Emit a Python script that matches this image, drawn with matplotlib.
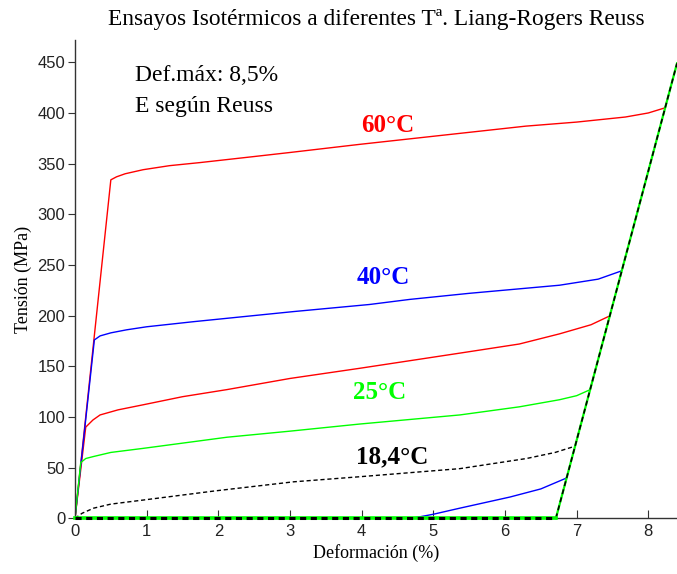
import numpy as np
import matplotlib
matplotlib.use("Agg")
import matplotlib.pyplot as plt

# curvas (deformacion %, tension MPa)
eps_60 = [0, 0.50, 0.58, 0.70, 0.95, 1.32, 1.74, 2.5, 3.0, 3.97, 5.0, 6.29, 7.0, 7.68, 8.0, 8.23]
sig_60 = [0, 334, 337, 340, 344, 348, 351, 357, 361, 369, 377, 387, 391, 396, 400, 405]

eps_40 = [0, 0.27, 0.35, 0.5, 0.72, 1.0, 1.65, 3.05, 4.11, 4.67, 5.5, 6.76, 7.3, 7.62]
sig_40 = [0, 176, 180, 183, 186, 189, 194, 204, 211, 216, 222, 230, 236, 244]

eps_40_ret = [4.70, 5.0, 5.37, 6.07, 6.5, 6.85]
sig_40_ret = [0, 4, 10, 21, 29, 39.5]

eps_r2 = [0, 0.15, 0.25, 0.35, 0.6, 0.95, 1.5, 2.12, 3.0, 3.97, 5.37, 6.2, 6.76, 7.2, 7.44]
sig_r2 = [0, 90, 97, 102, 107, 112, 120, 127, 138, 148, 163, 172, 182, 191, 199]

eps_25 = [0, 0.08, 0.15, 0.26, 0.5, 0.95, 2.12, 3.0, 3.97, 5.37, 6.2, 6.76, 7.0, 7.19]
sig_25 = [0, 55, 59, 61, 65, 69, 80, 86, 93, 102, 110, 117, 121, 127]

eps_18 = [0, 0.1, 0.26, 0.5, 0.95, 1.95, 3.05, 3.97, 5.37, 6.3, 6.7, 6.97]
sig_18 = [0, 5, 10, 14, 18, 27, 36, 41, 49, 59, 65, 71]

eps_base = [0, 6.71]
sig_base = [0, 0]
eps_desc = [6.71, 8.40]
sig_desc = [0, 449]

fig = plt.figure(figsize=(6.77, 5.74), dpi=100)
ax = fig.add_axes([75/677, 1 - 518.3/574, 1 - 75/677, (518.3 - 40)/574])

lw = 1.0
green = "#00ff00"
ax.plot(eps_60, sig_60, c="#ff0000", lw=lw)
ax.plot(eps_r2, sig_r2, c="#ff0000", lw=lw)
ax.plot(eps_40, sig_40, c="#0000ff", lw=lw)
ax.plot(eps_40_ret, sig_40_ret, c="#0000ff", lw=lw)
ax.plot(eps_25, sig_25, c=green, lw=lw)
ax.plot(eps_18, sig_18, c="k", lw=lw, ls=(0, (3, 2)))
# descarga comun
ax.plot(eps_desc, sig_desc, c=green, lw=1.6, clip_on=False)
ax.plot(eps_desc, sig_desc, c="k", lw=1.2, ls=(0, (3, 2)), clip_on=False)
ax.plot(eps_base, sig_base, c=green, lw=2.6, clip_on=False, zorder=5)
ax.plot(eps_base, sig_base, c="k", lw=2.2, ls=(0, (2, 1.5)), clip_on=False, zorder=6)

ax.set_xlim(0, 8.4)
ax.set_ylim(0, 472)
ax.set_xticks(range(0, 9))
ax.set_yticks(range(0, 451, 50))
for s in ["top", "right"]:
    ax.spines[s].set_visible(False)
for s in ["left", "bottom"]:
    ax.spines[s].set_color("#333333")
    ax.spines[s].set_linewidth(1.0)
ax.tick_params(axis="x", direction="in", length=6, color="#333333", pad=4)
ax.tick_params(axis="y", direction="out", length=5, color="#333333", pad=2)
for t in ax.get_xticklabels() + ax.get_yticklabels():
    t.set_fontfamily("Liberation Sans")
    t.set_fontsize(12)
    t.set_color("#222222")

serif = "Liberation Serif"
ax.set_xlabel("Deformación (%)", family=serif, fontsize=13, labelpad=4)
ax.set_ylabel("Tensión (MPa)", family=serif, fontsize=13, labelpad=4)
fig.text(376/677, 1 - 20/574, "Ensayos Isotérmicos a diferentes Tª. Liang-Rogers Reuss",
         family=serif, fontsize=16.8, ha="center", va="center")

ax.text(0.84, 437, "Def.máx: 8,5%", family=serif, fontsize=17, va="center")
ax.text(0.84, 406, "E según Reuss", family=serif, fontsize=17, va="center")
ax.text(4.37, 388, "60°C", family=serif, fontsize=18, weight="bold", color="#ff0000", ha="center", va="center")
ax.text(4.30, 238, "40°C", family=serif, fontsize=18, weight="bold", color="#0000ff", ha="center", va="center")
ax.text(4.25, 124, "25°C", family=serif, fontsize=18, weight="bold", color=green, ha="center", va="center")
ax.text(4.42, 60.5, "18,4°C", family=serif, fontsize=18, weight="bold", color="k", ha="center", va="center")

fig.savefig("out.png", dpi=100)
